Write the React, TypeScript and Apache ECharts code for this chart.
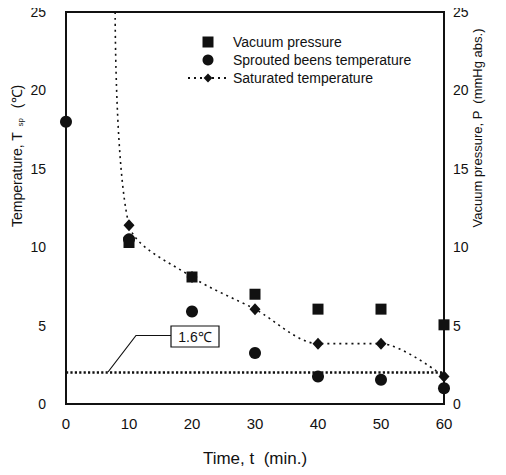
import React, { useEffect, useRef } from "react";
import * as echarts from "echarts";

const timeTicks = [0, 10, 20, 30, 40, 50, 60];
const pressureTimes = [10, 20, 30, 40, 50, 60];
const pressureValues = [10.3, 8.1, 7.0, 6.05, 6.05, 5.05];
const beanTimes = [0, 10, 20, 30, 40, 50, 60];
const beanTemps = [18.0, 10.5, 5.9, 3.25, 1.75, 1.55, 1.0];
const satTimes = [7.8, 10, 20, 30, 40, 50, 60];
const satTemps = [25, 11.4, 8.1, 6.05, 3.85, 3.85, 1.75];
const thresholdTemp = 2.0;
const thresholdLabel = "1.6℃";

const FONT = "Liberation Sans, Arial, sans-serif";
const INK = "#111";

export default function App() {
  const ref = useRef<HTMLDivElement>(null);
  useEffect(() => {
    if (!ref.current) return;
    const chart = echarts.init(ref.current, null, { renderer: "svg" });
    const option: any = {
      animation: false,
      backgroundColor: "#fff",
      textStyle: { fontFamily: FONT, color: INK },
      grid: {
        left: 66,
        right: 62,
        top: 12,
        bottom: 71,
        show: true,
        borderColor: INK,
        borderWidth: 2,
        backgroundColor: "transparent",
      },
      legend: {
        orient: "vertical",
        left: 182,
        top: 30,
        itemWidth: 40,
        itemHeight: 11,
        itemGap: 4,
        symbolKeepAspect: true,
        textStyle: { fontSize: 14, color: INK, fontFamily: FONT },
        data: [
          { name: "Vacuum pressure", icon: "path://M0,0H10V10H0Z" },
          { name: "Sprouted beens temperature", icon: "circle" },
          { name: "Saturated temperature" },
        ],
      },
      xAxis: {
        type: "value",
        min: timeTicks[0],
        max: timeTicks[timeTicks.length - 1],
        interval: 10,
        name: "Time, t  (min.)",
        nameLocation: "middle",
        nameGap: 46,
        nameTextStyle: { fontSize: 17, color: INK, fontFamily: FONT },
        axisLine: { lineStyle: { color: INK, width: 2 } },
        axisTick: { show: false },
        splitLine: { show: false },
        axisLabel: { fontSize: 15, color: INK, margin: 12 },
      },
      yAxis: [
        {
          type: "value",
          min: 0,
          max: 25,
          interval: 5,
          position: "left",
          axisLine: { show: true, lineStyle: { color: INK, width: 2 } },
          axisTick: { show: false },
          splitLine: { show: false },
          axisLabel: { fontSize: 14, color: INK, margin: 20 },
        },
        {
          type: "value",
          min: 0,
          max: 25,
          interval: 5,
          position: "right",
          axisLine: { show: true, lineStyle: { color: INK, width: 2 } },
          axisTick: { show: false },
          splitLine: { show: false },
          axisLabel: { fontSize: 14, color: INK, margin: 9 },
        },
      ],
      graphic: [
        {
          type: "text",
          x: 17,
          y: 156,
          rotation: Math.PI / 2,
          style: {
            text: "{a|Temperature, T }{s|sp}{a|  (℃)}",
            align: "center",
            verticalAlign: "middle",
            fill: INK,
            rich: {
              a: { fontSize: 14, fontFamily: FONT, fill: INK },
              s: { fontSize: 8, fontFamily: FONT, fill: INK, padding: [6, 2, 0, 2] },
            },
          },
        },
        {
          type: "text",
          x: 477,
          y: 128,
          rotation: Math.PI / 2,
          style: {
            text: "Vacuum pressure, P  (mmHg abs.)",
            align: "center",
            verticalAlign: "middle",
            fill: INK,
            fontSize: 13,
            fontFamily: FONT,
          },
        },
        {
          type: "polyline",
          shape: { points: [[171, 335.5], [136, 335.5], [108, 372]] },
          style: { stroke: INK, lineWidth: 1.2, fill: "none" },
          z: 10,
        },
        {
          type: "rect",
          shape: { x: 171, y: 326, width: 48, height: 21 },
          style: { stroke: INK, lineWidth: 1.2, fill: "#fff" },
          z: 10,
        },
        {
          type: "text",
          x: 195,
          y: 337,
          style: {
            text: thresholdLabel,
            align: "center",
            verticalAlign: "middle",
            fontSize: 14,
            fontFamily: FONT,
            fill: INK,
          },
          z: 11,
        },
      ],
      series: [
        {
          name: "Saturated temperature",
          type: "line",
          yAxisIndex: 0,
          smooth: 0.3,
          symbol: "diamond",
          symbolSize: [11, 12],
          itemStyle: { color: INK, opacity: 1 },
          lineStyle: { color: INK, width: 1.6, type: [2, 4] },
          data: satTimes.map((t, i) =>
            i === 0
              ? { value: [t, satTemps[i]], symbol: "none" }
              : { value: [t, satTemps[i]] }
          ),
          z: 2,
          markLine: {
            silent: true,
            symbol: "none",
            label: { show: false },
            lineStyle: { color: INK, width: 2.6, type: [2.2, 2.2] },
            data: [{ yAxis: thresholdTemp }],
          },
        },
        {
          name: "Sprouted beens temperature",
          type: "scatter",
          yAxisIndex: 0,
          symbol: "circle",
          symbolSize: 12,
          clip: false,
          itemStyle: { color: INK, opacity: 1 },
          data: beanTimes.map((t, i) => [t, beanTemps[i]]),
          z: 3,
        },
        {
          name: "Vacuum pressure",
          type: "scatter",
          yAxisIndex: 1,
          symbol: "rect",
          symbolSize: 11,
          clip: false,
          itemStyle: { color: INK, opacity: 1 },
          data: pressureTimes.map((t, i) => [t, pressureValues[i]]),
          z: 4,
        },
      ],
    };
    chart.setOption(option);
    return () => chart.dispose();
  }, []);
  return <div ref={ref} style={{ width: 506, height: 475, margin: -8 }} />;
}
